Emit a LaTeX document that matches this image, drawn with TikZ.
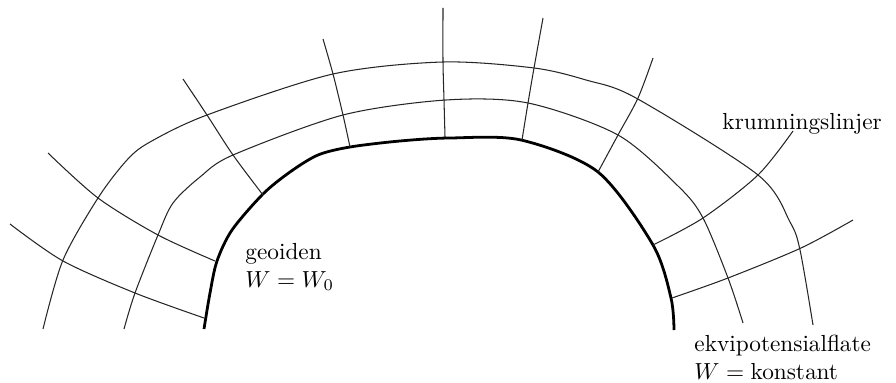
\documentclass[tikz,border=0pt]{standalone}
\begin{document}
\begin{tikzpicture}[x=0.43pt,y=-0.43pt,
  thinline/.style={line width=0.45pt,black!85},
  geoid/.style={line width=1.2pt,black},
  lbl/.style={inner sep=0pt,align=left,anchor=west}]
\useasboundingbox (0,0) rectangle (896,383);
% geoid
\draw[geoid] plot[smooth,tension=0.5] coordinates {(204,329) (210,293) (217,261) (232,230) (263,194) (290,172) (318,155) (350,147) (400,141) (450,138) (521,140) (598,172) (653,245) (671,298) (674,330)};
% inner equipotential
\draw[thinline] plot[smooth,tension=0.5] coordinates {(124,329) (135,293) (158,235) (173,203) (200,177) (233,155) (343,115) (446,100) (528,103) (618,135) (679,187) (703,218) (728,278) (743,323)};
% outer equipotential
\draw[thinline] plot[smooth,tension=0.5] coordinates {(43,329) (63,260) (98,198) (127,160) (150,142) (207,115) (333,74) (443,62) (534,68) (586,80) (636,98) (758,175) (790,222) (800,250) (813,325)};
% plumb lines
\draw[thinline] plot[smooth] coordinates {(10,224) (63,261) (135,293) (204,318)};
\draw[thinline] plot[smooth] coordinates {(48,153) (98,198) (158,235) (215,261)};
\draw[thinline] plot[smooth] coordinates {(183,79) (207,115) (233,155) (263,195)};
\draw[thinline] plot[smooth] coordinates {(323,39) (333,74) (343,115) (350,147)};
\draw[thinline] plot[smooth] coordinates {(443,8) (443,62) (444,100) (445,137)};
\draw[thinline] plot[smooth] coordinates {(543,18) (534,68) (528,103) (522,140)};
\draw[thinline] plot[smooth] coordinates {(653,58) (638,98) (618,135) (598,172)};
\draw[thinline] plot[smooth] coordinates {(793,131) (758,175) (703,218) (653,245)};
\draw[thinline] plot[smooth] coordinates {(853,220) (801,248) (728,278) (672,298)};
% labels
\node[lbl] (geo) at (245,267) {geoiden\\$W=W_0$};
\node[lbl] (krum) at (722,124) {krumningslinjer};
\node[lbl] (ekv) at (694,357) {ekvipotensialflate\\$W=\mathrm{konstant}$};
\end{tikzpicture}
\end{document}
